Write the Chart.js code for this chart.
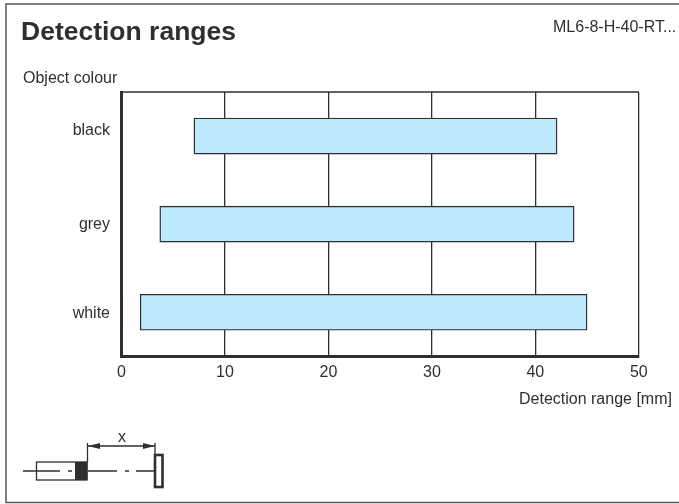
<!DOCTYPE html>
<html>
<head>
<meta charset="utf-8">
<style>
  html, body { margin: 0; padding: 0; background: #fff; }
  #wrap { position: relative; width: 679px; height: 504px; }
</style>
<script src="https://cdn.jsdelivr.net/npm/chart.js@4"></script>
</head>
<body>
<div id="wrap"><canvas id="rangeChart" width="679" height="504"></canvas></div>
<script>
const categories = ['black', 'grey', 'white'];
const rangeStart = [7, 3.7, 1.8];
const rangeEnd = [42.1, 43.75, 45];
const xTicks = [0, 10, 20, 30, 40, 50];

const font = '"Liberation Sans", Arial, sans-serif';
const ink = '#2f2e30';

// frame, headings, plot outline and the little sensor sketch
const decorations = {
  id: 'decorations',
  beforeDraw(chart) {
    const c = chart.ctx;
    c.save();
    c.strokeStyle = '#55565a';
    c.lineWidth = 1.5;
    c.strokeRect(6, 4, 680, 498.5);
    c.fillStyle = ink;
    c.textBaseline = 'alphabetic';
    c.font = 'bold 26.5px ' + font;
    c.fillText('Detection ranges', 21, 40);
    c.font = '16px ' + font;
    c.fillText('Object colour', 23, 83);
    c.fillText('ML6-8-H-40-RT...', 553, 32);
    c.fillText('Detection range [mm]', 519, 404);

    // the labels in the original do not sit quite level with their bars
    const y = chart.scales.y;
    const nudge = [-5, 0, 1];
    c.textAlign = 'right';
    c.textBaseline = 'middle';
    categories.forEach((name, i) => {
      c.fillText(name, 110, y.getPixelForValue(i) + nudge[i]);
    });
    c.restore();
  },
  afterDraw(chart) {
    const c = chart.ctx;
    const a = chart.chartArea;
    c.save();
    c.strokeStyle = ink;
    c.fillStyle = ink;
    c.lineWidth = 1.3;
    c.beginPath();
    c.moveTo(a.left, a.top);
    c.lineTo(a.right, a.top);
    c.stroke();

    // sensor body
    c.strokeRect(36.5, 462, 50.5, 18);
    c.fillRect(75, 462, 12.5, 18);
    // centre line
    c.beginPath();
    c.moveTo(23, 471); c.lineTo(60, 471);
    c.moveTo(68, 471); c.lineTo(72, 471);
    c.moveTo(88, 471); c.lineTo(117, 471);
    c.moveTo(125, 471); c.lineTo(129, 471);
    c.moveTo(136, 471); c.lineTo(154, 471);
    c.stroke();
    // target plate
    c.lineWidth = 2.6;
    c.strokeRect(155, 455, 7.5, 32);
    // dimension line
    c.lineWidth = 1.3;
    c.beginPath();
    c.moveTo(87.5, 462); c.lineTo(87.5, 443);
    c.moveTo(155, 454); c.lineTo(155, 443);
    c.moveTo(87.5, 446); c.lineTo(155, 446);
    c.stroke();
    c.beginPath();
    c.moveTo(88, 446); c.lineTo(100, 443); c.lineTo(100, 449); c.closePath();
    c.moveTo(155, 446); c.lineTo(143, 443); c.lineTo(143, 449); c.closePath();
    c.fill();
    c.font = '16px ' + font;
    c.textAlign = 'center';
    c.fillText('x', 122, 442);
    c.restore();
  }
};

new Chart(document.getElementById('rangeChart'), {
  type: 'bar',
  data: {
    labels: categories,
    datasets: [{
      data: categories.map((_, i) => [rangeStart[i], rangeEnd[i]]),
      backgroundColor: '#bde9fd',
      borderColor: ink,
      borderWidth: 1.4,
      borderSkipped: false,
      barThickness: 36
    }]
  },
  options: {
    indexAxis: 'y',
    responsive: false,
    animation: false,
    events: [],
    layout: { padding: { top: 92, right: 40.2, bottom: 0, left: 0 } },
    plugins: { legend: { display: false }, tooltip: { enabled: false } },
    scales: {
      x: {
        min: 0,
        max: 50,
        afterBuildTicks(axis) { axis.ticks = xTicks.map(v => ({ value: v })); },
        afterFit(axis) { axis.height = 147.7; },
        grid: { color: ink, lineWidth: 1.3, drawTicks: false },
        border: { color: ink, width: 3 },
        ticks: { color: ink, padding: 7, maxRotation: 0, font: { family: font, size: 16 } }
      },
      y: {
        afterFit(axis) { axis.width = 121.5; },
        grid: { display: false, drawTicks: false },
        border: { color: ink, width: 3 },
        ticks: { display: false }
      }
    }
  },
  plugins: [decorations]
});
</script>
</body>
</html>
